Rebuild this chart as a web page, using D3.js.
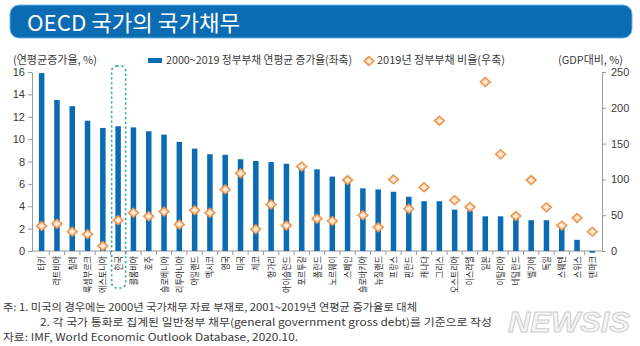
<!DOCTYPE html>
<html>
<head>
<meta charset="utf-8">
<script src="https://cdnjs.cloudflare.com/ajax/libs/d3/7.8.5/d3.min.js"></script>
<style>
	body { margin: 0; background: #fff; }
	text { font-family: "Noto Sans CJK KR", "Noto Sans", sans-serif; }
	.num { font-family: "Liberation Sans", Arial, sans-serif; }
</style>
</head>
<body>
<div id="viz"></div>
<script>

// Countries, sorted by average annual growth of government debt
var COUNTRIES = ["터키", "라트비아", "칠레", "룩셈부르크", "에스토니아", "한국", "콜롬비아", "호주",
	"슬로베니아", "리투아니아", "아일랜드", "멕시코", "영국", "미국", "체코", "헝가리", "아이슬란드",
	"포르투갈", "폴란드", "노르웨이", "스페인", "슬로바키아", "뉴질랜드", "프랑스", "핀란드", "캐나다",
	"그리스", "오스트리아", "이스라엘", "일본", "이탈리아", "네덜란드", "벨기에", "독일", "스웨덴",
	"스위스", "덴마크"];

// 2000~2019 average annual growth (%, left axis)
var GROWTH = [15.9, 13.5, 12.95, 11.65, 11.0, 11.15, 11.05, 10.7, 10.4, 9.75, 9.15, 8.65, 8.6, 8.2,
	8.05, 7.95, 7.8, 7.45, 7.3, 6.65, 6.25, 5.6, 5.5, 5.3, 4.85, 4.45, 4.45, 3.7, 3.6, 3.1, 3.1, 3.05,
	2.75, 2.75, 2.25, 1.0, -0.15];

// 2019 government debt (% of GDP, right axis)
var DEBT = [35, 38, 27, 23.5, 7, 43, 53.5, 48.5, 55, 37, 57, 53.5, 86, 108.5, 30.5, 65, 35.5, 118,
	45, 42, 99, 50, 33, 100, 59, 89, 182, 71, 61.5, 236, 135, 49, 99, 61, 35.5, 46, 27];

var LEFT_TICKS = [0, 2, 4, 6, 8, 10, 12, 14, 16];
var RIGHT_TICKS = [0, 50, 100, 150, 200, 250];

var HIGHLIGHT = "한국";

var NOTES = [
	"주: 1. 미국의 경우에는 2000년 국가채무 자료 부재로, 2001~2019년 연평균 증가율로 대체",
	"2. 각 국가 통화로 집계된 일반정부 채무(general government gross debt)를 기준으로 작성",
	"자료: IMF, World Economic Outlook Database, 2020.10."
];

var SVG_WIDTH = 640, SVG_HEIGHT = 346;
var BAR_COLOR = "#0a6bb3";
var AXIS_COLOR = "#9a9a9a";
var TEXT_COLOR = "#3a3a3a";

var svg = d3.select("#viz")
	.append("svg")
	.attr("width", SVG_WIDTH)
	.attr("height", SVG_HEIGHT);

/*********
 * TITLE *
 *********/

svg.append("rect")
	.attr("x", 10).attr("y", 5)
	.attr("width", 622).attr("height", 33)
	.attr("rx", 9)
	.style("fill", "#0b6cb4")
	.style("stroke", "#6bb2e0")
	.style("stroke-width", 1);

svg.append("text")
	.attr("x", 27).attr("y", 31)
	.attr("textLength", 213)
	.attr("lengthAdjust", "spacingAndGlyphs")
	.style("fill", "#fff")
	.style("font-size", "22px")
	.text("OECD 국가의 국가채무");

/**********
 * SCALES *
 **********/

var x = d3.scaleBand()
	.domain(COUNTRIES)
	.range([34, 600])
	.paddingInner(0.64)
	.paddingOuter(0.32);

var yLeft = d3.scaleLinear().domain([0, 16]).range([251, 72]);
var yRight = d3.scaleLinear().domain([0, 250]).range([251, 72]);

/********
 * AXES *
 ********/

function styleAxis(g) {
	g.select(".domain").style("stroke", AXIS_COLOR);
	g.selectAll(".tick line").style("stroke", AXIS_COLOR);
	g.selectAll(".tick text")
		.attr("class", "num")
		.style("fill", TEXT_COLOR)
		.style("font-size", "11px");
}

svg.append("g")
	.attr("transform", "translate(32,0)")
	.call(d3.axisLeft(yLeft).tickValues(LEFT_TICKS).tickSize(4).tickSizeOuter(0).tickPadding(3))
	.call(styleAxis);

svg.append("g")
	.attr("transform", "translate(602,0)")
	.call(d3.axisRight(yRight).tickValues(RIGHT_TICKS).tickSize(4).tickSizeOuter(0).tickPadding(5))
	.call(styleAxis);

// Category baseline with ticks between the bars
var base = svg.append("g");
base.append("line")
	.attr("x1", 32).attr("x2", 602)
	.attr("y1", yLeft(0)).attr("y2", yLeft(0))
	.style("stroke", AXIS_COLOR);

base.selectAll("line.sep")
	.data(COUNTRIES.slice(1))
	.enter()
	.append("line")
	.attr("class", "sep")
	.attr("x1", function(d){ return x(d) + x.bandwidth() / 2 - x.step() / 2; })
	.attr("x2", function(d){ return x(d) + x.bandwidth() / 2 - x.step() / 2; })
	.attr("y1", yLeft(0))
	.attr("y2", yLeft(0) + 4)
	.style("stroke", AXIS_COLOR);

// Country labels, rotated
base.selectAll("text.cat")
	.data(COUNTRIES)
	.enter()
	.append("text")
	.attr("class", "cat")
	.attr("transform", function(d){
		return "translate(" + (x(d) + x.bandwidth() / 2 + 3.5) + "," + (yLeft(0) + 5) + ") rotate(-90)";
	})
	.attr("text-anchor", "end")
	.attr("textLength", function(d){ return d.length * 7.4; })
	.attr("lengthAdjust", "spacingAndGlyphs")
	.style("font-size", "9px")
	.style("fill", "#2e2e2e")
	.text(function(d){ return d; });

/********
 * BARS *
 ********/

svg.append("g")
	.selectAll("rect")
	.data(COUNTRIES)
	.enter()
	.append("rect")
	.attr("x", function(d){ return x(d); })
	.attr("y", function(d, i){ return yLeft(Math.max(0, GROWTH[i])); })
	.attr("width", x.bandwidth())
	.attr("height", function(d, i){ return Math.abs(yLeft(GROWTH[i]) - yLeft(0)); })
	.style("fill", BAR_COLOR);

/************
 * DIAMONDS *
 ************/

var DIAMOND = "M0,-4.5L5,0L0,4.5L-5,0Z";

function diamond(sel) {
	sel.append("path")
		.attr("d", DIAMOND)
		.style("fill", "#fcd8b6")
		.style("stroke", "#ec9148")
		.style("stroke-width", 1.4);
	sel.append("path")
		.attr("d", "M0,-1.8L2,0L0,1.8L-2,0Z")
		.style("fill", "#fff3e6");
}

svg.append("g")
	.selectAll("g")
	.data(COUNTRIES)
	.enter()
	.append("g")
	.attr("transform", function(d, i){
		return "translate(" + (x(d) + x.bandwidth() / 2) + "," + yRight(DEBT[i]) + ")";
	})
	.call(diamond);

// Dotted frame round the highlighted country
var hx = x(HIGHLIGHT) + x.bandwidth() / 2;
svg.append("rect")
	.attr("x", hx - 6.5).attr("y", 66)
	.attr("width", 14).attr("height", 222)
	.attr("rx", 5)
	.style("fill", "none")
	.style("stroke", "#2fa89e")
	.style("stroke-width", 1.6)
	.style("stroke-dasharray", "2.2,2.6");

/*****************
 * LEGEND/TITLES *
 *****************/

function label(tx, ty, str, len) {
	var t = svg.append("text")
		.attr("x", tx).attr("y", ty)
		.style("font-size", "11px")
		.style("fill", TEXT_COLOR)
		.text(str);
	if (len) t.attr("textLength", len).attr("lengthAdjust", "spacingAndGlyphs");
	return t;
}

label(13, 64, "(연평균증가율, %)", 84);
label(558, 64, "(GDP대비, %)", 65);

svg.append("rect")
	.attr("x", 148).attr("y", 58)
	.attr("width", 14).attr("height", 5)
	.style("fill", BAR_COLOR);
label(166, 64, "2000~2019 정부부채 연평균 증가율(좌축)", 186);

svg.append("g")
	.attr("transform", "translate(369,61)")
	.call(diamond);
label(377, 64, "2019년 정부부채 비율(우축)", 128);

/*********
 * NOTES *
 *********/

var NOTE_X = [3, 40, 3];
var NOTE_LEN = [414, 452, 295];
NOTES.forEach(function(n, i){
	svg.append("text")
		.attr("x", NOTE_X[i])
		.attr("y", 311 + i * 15)
		.attr("textLength", NOTE_LEN[i])
		.attr("lengthAdjust", "spacingAndGlyphs")
		.style("font-size", "10.2px")
		.style("fill", TEXT_COLOR)
		.text(n);
});

// Agency mark
svg.append("text")
	.attr("x", 508).attr("y", 332)
	.attr("textLength", 122)
	.attr("lengthAdjust", "spacingAndGlyphs")
	.style("font-family", "\"Liberation Sans\", sans-serif")
	.style("font-size", "30px")
	.style("font-weight", "bold")
	.style("font-style", "italic")
	.style("fill", "#f4f4f4")
	.style("stroke", "#cfcfcf")
	.style("stroke-width", 1)
	.text("NEWSIS");

</script>
</body>
</html>
